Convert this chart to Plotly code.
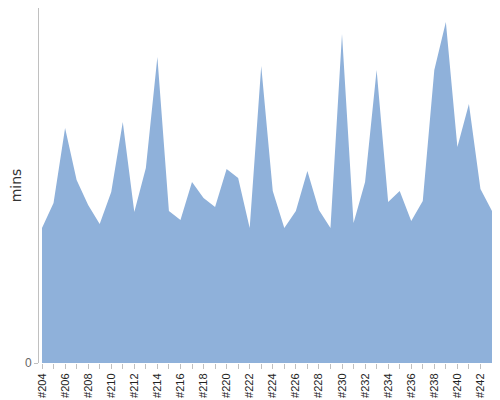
import plotly.graph_objects as go

# build numbers #204 .. #243
builds = ['#%d' % n for n in range(204, 244)]
# minutes per build
mins = [13.5, 16.0, 23.5, 18.3, 15.8, 13.9, 17.1, 24.1, 15.1, 19.5,
        30.6, 15.2, 14.3, 18.1, 16.5, 15.6, 19.4, 18.5, 13.5, 29.7,
        17.2, 13.5, 15.2, 19.2, 15.3, 13.5, 32.9, 14.0, 18.1, 29.3,
        16.1, 17.2, 14.2, 16.2, 29.3, 34.1, 21.6, 25.9, 17.4, 15.2]
# only every second build gets a label
tick_text = [b if i % 2 == 0 else '' for i, b in enumerate(builds)]

fig = go.Figure()

fig.add_trace(go.Scatter(
    x=builds,
    y=mins,
    mode='none',
    fill='tozeroy',
    fillcolor='#8FB1DA',
    name='mins'))

fig.update_xaxes(
    type='category',
    range=[-0.26, 39],
    tickvals=builds,
    ticktext=tick_text,
    tickangle=-90,
    ticks='outside',
    ticklen=5,
    tickcolor='#c0c0c0',
    tickfont=dict(family='Liberation Sans', size=11, color='#222'),
    automargin=False,
    showgrid=False,
    showline=False,
    zeroline=False)

fig.update_yaxes(
    range=[0, 35.5],
    tickvals=[0],
    ticktext=['0'],
    ticks='outside',
    ticklen=4,
    tickcolor='#c0c0c0',
    tickfont=dict(family='Liberation Sans', size=12, color='#666'),
    title=dict(text='mins', font=dict(family='DejaVu Sans', size=14, color='#333'), standoff=0),
    automargin=False,
    showgrid=False,
    showline=True,
    linecolor='#c0c0c0',
    linewidth=1,
    zeroline=False)

fig.update_layout(
    width=500,
    height=400,
    margin=dict(l=31, r=16, t=0, b=45),
    plot_bgcolor='white',
    paper_bgcolor='white',
    showlegend=False)

fig.write_html("out.html")
